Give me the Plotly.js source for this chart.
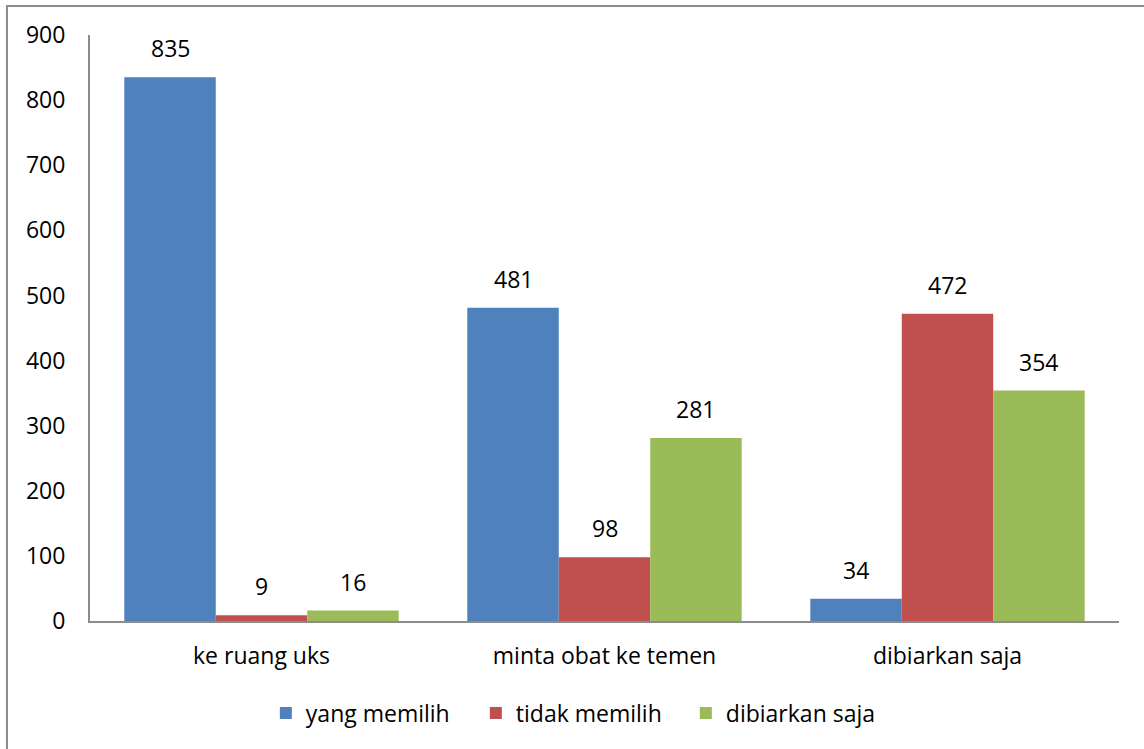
<!DOCTYPE html>
<html>
<head>
<meta charset="utf-8">
<script src="https://cdn.plot.ly/plotly-3.0.1.min.js"></script>
<style>html,body{margin:0;padding:0;background:#fff;}#chart{width:1144px;height:749px;}</style>
</head>
<body>
<div id="chart"></div>
<script>
var categories = ["ke ruang uks", "minta obat ke temen", "dibiarkan saja"];
var seriesNames = ["yang memilih", "tidak memilih", "dibiarkan saja"];
var yangMemilih = [835, 481, 34];
var tidakMemilih = [9, 98, 472];
var dibiarkanSaja = [16, 281, 354];
var yTicks = [0, 100, 200, 300, 400, 500, 600, 700, 800, 900];
var colors = ["#4F81BD", "#C0504D", "#9BBB59"];

var FONT = "Open Sans, Noto Sans, sans-serif";
var FS = 23;
var BARGAP = 0.2;
var allSeries = [yangMemilih, tidakMemilih, dibiarkanSaja];
var traces = allSeries.map(function (vals, i) {
  return {
    type: "bar",
    name: seriesNames[i],
    x: categories,
    y: vals,
    marker: { color: colors[i] }
  };
});

// value labels placed above each bar (offset within group computed from bar layout)
var nS = allSeries.length;
var barW = (1 - BARGAP) / nS;
var annotations = [];
allSeries.forEach(function (vals, i) {
  vals.forEach(function (v, c) {
    annotations.push({
      x: c + (i - (nS - 1) / 2) * barW,
      y: v,
      xref: "x", yref: "y",
      text: String(v),
      showarrow: false,
      yanchor: "middle",
      yshift: 29,
      font: { family: FONT, size: FS, color: "#000" }
    });
  });
});

var layout = {
  width: 1144,
  height: 749,
  margin: { l: 90, r: 25, t: 35, b: 128 },
  paper_bgcolor: "#fff",
  plot_bgcolor: "#fff",
  barmode: "group",
  bargap: BARGAP,
  bargroupgap: 0,
  font: { family: FONT, size: FS, color: "#000" },
  xaxis: {
    showline: true, linecolor: "#8c8c8c", linewidth: 2,
    ticks: "", showgrid: false, zeroline: false,
    ticklabelstandoff: 13,
    tickfont: { family: FONT, size: FS, color: "#000" }
  },
  yaxis: {
    range: [0, 900], tickvals: yTicks, ticktext: yTicks.map(String),
    showline: true, linecolor: "#8c8c8c", linewidth: 2,
    ticks: "", showgrid: false, zeroline: false,
    ticklabelstandoff: 18,
    tickfont: { family: FONT, size: FS, color: "#000" }
  },
  annotations: annotations,
  showlegend: true,
  legend: {
    orientation: "h", x: 0.477, xanchor: "center", y: -0.157, yanchor: "middle",
    font: { family: FONT, size: FS, color: "#000" },
    itemwidth: 30,
    entrywidth: 165
  },
  shapes: [{
    type: "rect", xref: "paper", yref: "paper",
    x0: -0.0807, x1: 1.2, y0: -0.5, y1: 1.0495,
    line: { color: "#8c8c8c", width: 2 }, fillcolor: "rgba(0,0,0,0)", layer: "below"
  }]
};

Plotly.newPlot("chart", traces, layout, { displayModeBar: false, staticPlot: true });
</script>
</body>
</html>
